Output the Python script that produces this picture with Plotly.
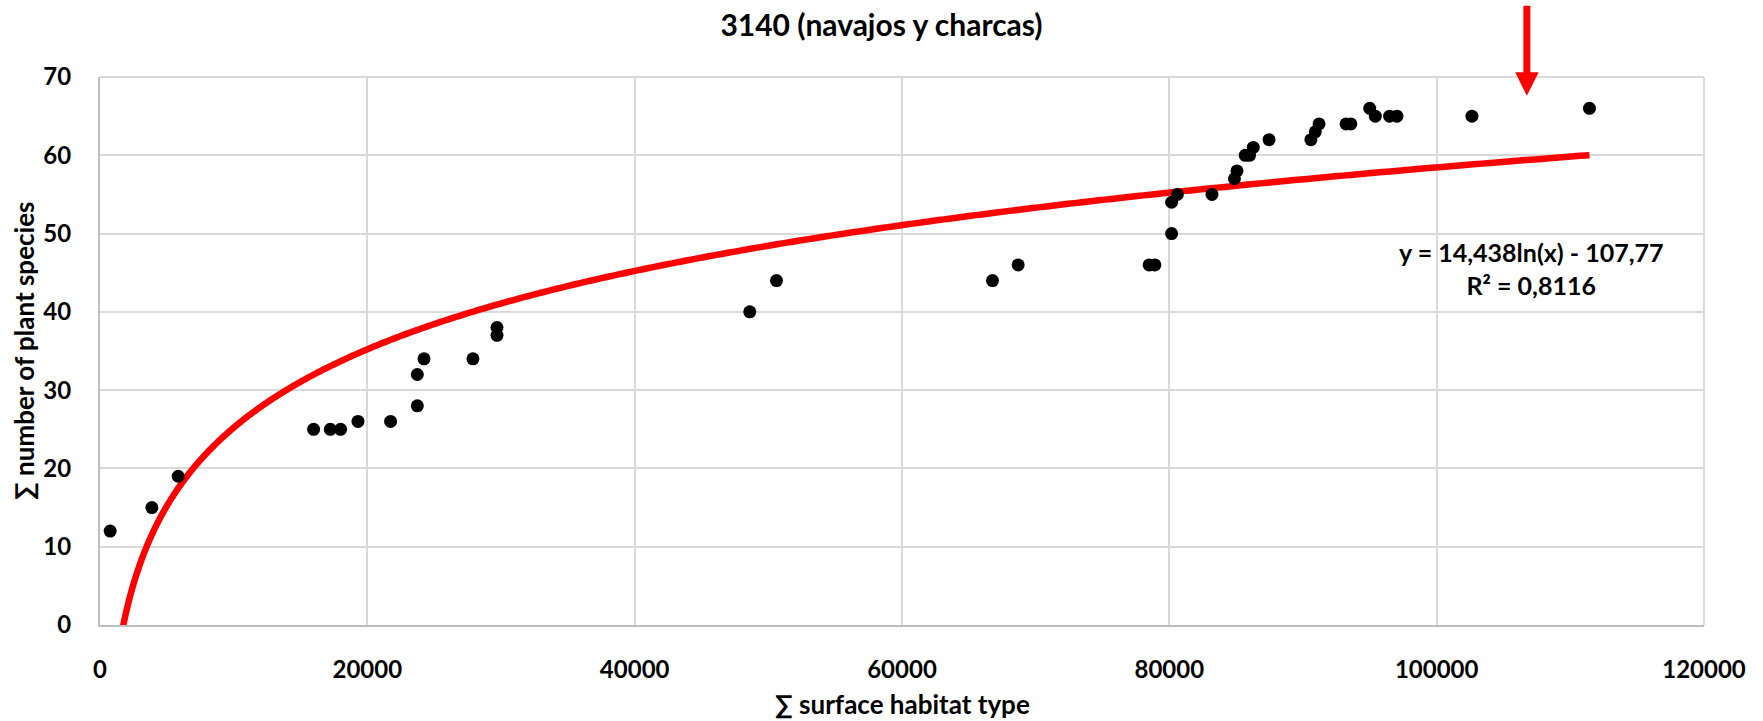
import numpy as np
import plotly.graph_objects as go

# ---------------- data ----------------
chart_title = "3140 (navajos y charcas)"
x_axis_title = "∑ surface habitat type"
y_axis_title = "∑ number of plant species"

surface = [760, 3880, 5850, 15980, 17230, 18000, 19300, 21740, 23740, 23740,
           24240, 27900, 29700, 29700, 48610, 50610, 66770, 68690, 78490, 78920,
           80170, 80170, 80600, 83190, 84870, 85060, 85680, 86000, 86280, 87460,
           90590, 90920, 91200, 93220, 93580, 94990, 95410, 96480, 97030, 102640,
           111430]
species = [12, 15, 19, 25, 25, 25, 26, 26, 28, 32,
           34, 34, 37, 38, 40, 44, 44, 46, 46, 46,
           50, 54, 55, 55, 57, 58, 60, 60, 61, 62,
           62, 63, 64, 64, 64, 66, 65, 65, 65, 65,
           66]

fit_a = 14.438
fit_b = -107.77
fit_r2 = 0.8116

x_ticks = [0, 20000, 40000, 60000, 80000, 100000, 120000]
y_ticks = [0, 10, 20, 30, 40, 50, 60, 70]
arrow_x = 106750          # position of the red marker arrow (x units)
label_pos = (107050, 45.5)  # trendline label position (x, y units)

# ---------------- styling ----------------
FONT = "Lato"
GRID = "#d9d9d9"
AXIS = "#bfbfbf"
RED = "#ff0000"

fig = go.Figure()

# logarithmic trendline from the printed coefficients
xs = np.geomspace(min(surface), max(surface), 800)
ys = fit_a * np.log(xs) + fit_b
fig.add_trace(go.Scatter(x=xs, y=ys, mode="lines",
                         line=dict(color=RED, width=6.5, simplify=False),
                         hoverinfo="skip", showlegend=False))

fig.add_trace(go.Scatter(x=surface, y=species, mode="markers",
                         marker=dict(color="black", size=13, line=dict(width=0)),
                         showlegend=False))

eq_text = ("y = " + f"{fit_a:.3f}".replace(".", ",") + "ln(x) - "
           + f"{abs(fit_b):.2f}".replace(".", ",")
           + "<br>R² = " + f"{fit_r2:.4f}".replace(".", ","))
fig.add_annotation(x=label_pos[0], y=label_pos[1], xref="x", yref="y",
                   text=eq_text, showarrow=False, xanchor="center", yanchor="middle",
                   font=dict(family=FONT, size=25, color="black", weight="bold"))

# axis titles as annotations
fig.add_annotation(x=0.5, y=0, xref="x domain", yref="y domain", yshift=-79,
                   text=x_axis_title, showarrow=False, xanchor="center", yanchor="middle",
                   font=dict(family=FONT, size=26, color="black", weight="bold"))
fig.add_annotation(x=0, y=0.5, xref="x domain", yref="y domain", xshift=-76,
                   text=y_axis_title, showarrow=False, textangle=-90,
                   xanchor="center", yanchor="middle",
                   font=dict(family=FONT, size=26, color="black", weight="bold"))

# red arrow above the plot
xd = arrow_x / x_ticks[-1]
hw = 0.0073
fig.add_shape(type="line", xref="x domain", yref="y domain",
              x0=xd, x1=xd, y0=1.13, y1=1.0,
              line=dict(color=RED, width=7))
fig.add_shape(type="path", xref="x domain", yref="y domain",
              path=f"M {xd-hw},1.0087 L {xd+hw},1.0087 L {xd},0.9657 Z",
              fillcolor=RED, line=dict(color=RED, width=0))

# top / right border lines (light grid colour)
fig.add_shape(type="line", xref="x domain", yref="y domain", x0=0, x1=1, y0=1, y1=1,
              line=dict(color=GRID, width=2), layer="below")
fig.add_shape(type="line", xref="x domain", yref="y domain", x0=1, x1=1, y0=0, y1=1,
              line=dict(color=GRID, width=2), layer="below")

fig.update_layout(
    width=1763, height=721,
    margin=dict(l=100, r=59, t=77, b=96),
    paper_bgcolor="white", plot_bgcolor="white",
    title=dict(text=chart_title, x=0.5, xanchor="center", xref="container",
               y=1 - 25 / 721, yref="container", yanchor="middle",
               font=dict(family=FONT, size=30, color="black", weight="bold")),
    font=dict(family=FONT, size=24, color="black"),
    showlegend=False,
)
fig.update_xaxes(range=[0, 120000], tickvals=x_ticks,
                 ticktext=[str(v) for v in x_ticks],
                 showgrid=True, gridcolor=GRID, gridwidth=2,
                 showline=True, linecolor=AXIS, linewidth=2,
                 zeroline=False, ticks="", ticklabelstandoff=22,
                 tickfont=dict(family=FONT, size=24, color="black", weight="bold"))
fig.update_yaxes(range=[0, 70], tickvals=y_ticks,
                 showgrid=True, gridcolor=GRID, gridwidth=2,
                 showline=True, linecolor=AXIS, linewidth=2,
                 zeroline=False, ticks="", ticklabelstandoff=22,
                 tickfont=dict(family=FONT, size=24, color="black", weight="bold"))

fig.write_html("out.html")
